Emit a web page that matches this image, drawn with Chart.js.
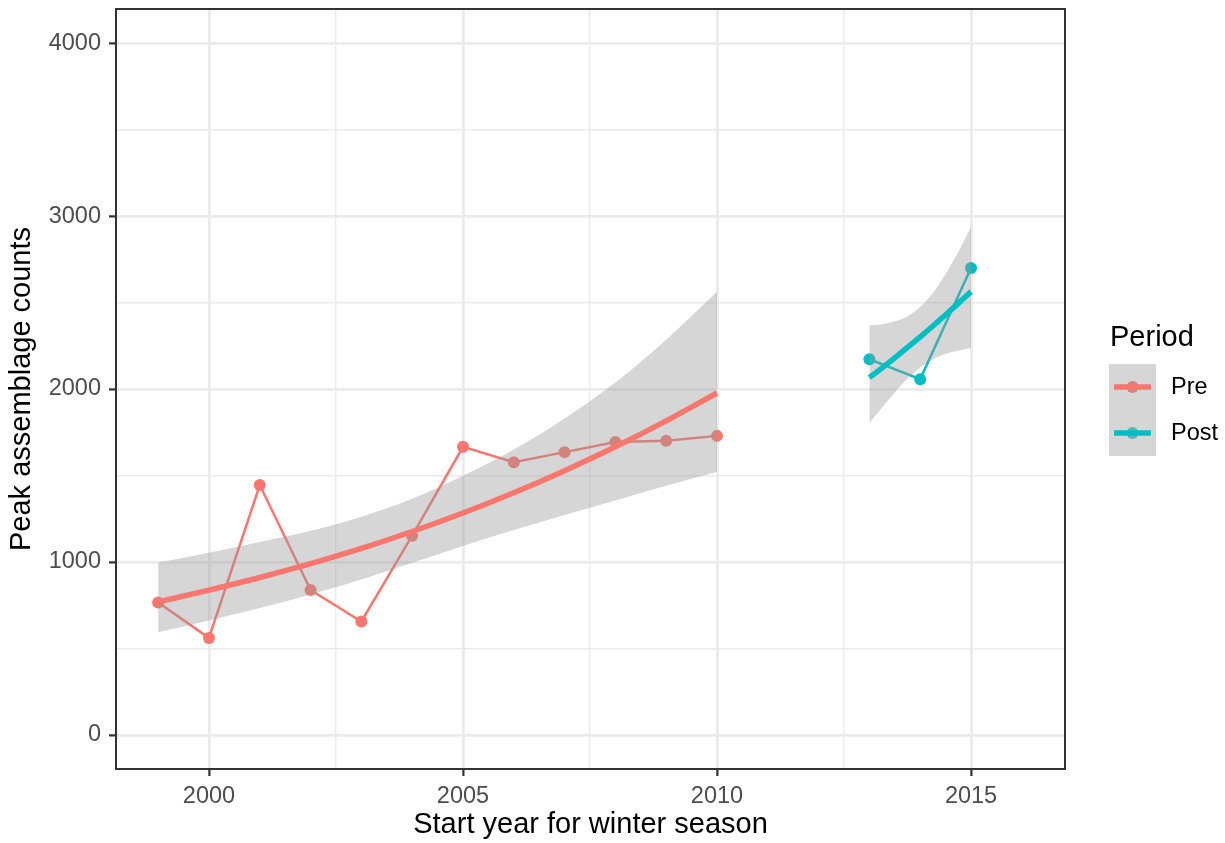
<!DOCTYPE html>
<html>
<head>
<meta charset="utf-8">
<script src="https://cdn.jsdelivr.net/npm/chart.js@4"></script>
<style>
  html, body { margin: 0; padding: 0; background: #fff; }
  #wrap { width: 1225px; height: 843px; position: relative; }
</style>
</head>
<body>
<div id="wrap"><canvas id="chart"></canvas></div>
<script>
// observed counts
const preYears = [1999, 2000, 2001, 2002, 2003, 2004, 2005, 2006, 2007, 2008, 2009, 2010];
const preCounts = [766, 561, 1445, 838, 656, 1152, 1666, 1577, 1635, 1694, 1701, 1729];
const postYears = [2013, 2014, 2015];
const postCounts = [2172, 2057, 2700];

// smooth fits + confidence band
const preFit = [769, 837, 910, 990, 1078, 1176, 1283, 1400, 1528, 1666, 1816, 1977];
const preUpper = [997, 1053, 1115, 1180, 1262, 1366, 1498, 1650, 1830, 2038, 2285, 2562];
const preLower = [593, 662, 734, 812, 898, 995, 1093, 1185, 1272, 1356, 1440, 1522];
const postFitYears = [2013, 2013.25, 2013.5, 2013.75, 2014, 2014.25, 2014.5, 2014.75, 2015];
const postFit = [2066, 2122, 2180, 2240, 2301, 2364, 2429, 2495, 2563];
const postUpper = [2368, 2375, 2391, 2421, 2474, 2555, 2665, 2792, 2937];
const postLower = [1803, 1893, 1980, 2060, 2125, 2172, 2202, 2222, 2237];

// axes
const xGridValues = [2000, 2002.5, 2005, 2007.5, 2010, 2012.5, 2015];
const yGridValues = [0, 500, 1000, 1500, 2000, 2500, 3000, 3500, 4000];
const periodLabels = ['Pre', 'Post'];

const PRE = '#F8766D';
const POST = '#00BFC4';
const BAND = 'rgba(153, 153, 153, 0.4)';
const FONT = '"Liberation Sans", Arial, Helvetica, sans-serif';

const pts = (xs, ys) => xs.map((x, i) => ({ x: x, y: ys[i] }));

function dataLine(label, xs, ys, color) {
    return {
        label: label,
        data: pts(xs, ys),
        borderColor: color,
        backgroundColor: color,
        borderWidth: 2.5,
        pointRadius: 6,
        pointBorderWidth: 0,
        pointBackgroundColor: color,
        fill: false,
        tension: 0,
        order: 3
    };
}

function band(xs, ys, isUpper) {
    return {
        data: pts(xs, ys),
        borderWidth: 0,
        borderColor: 'rgba(0,0,0,0)',
        backgroundColor: BAND,
        pointRadius: 0,
        fill: isUpper ? '+1' : false,
        cubicInterpolationMode: 'monotone',
        order: 2
    };
}

function fitLine(xs, ys, color) {
    return {
        data: pts(xs, ys),
        borderColor: color,
        borderWidth: 5.5,
        pointRadius: 0,
        fill: false,
        cubicInterpolationMode: 'monotone',
        borderCapStyle: 'butt',
        order: 1
    };
}

// panel border drawn on top, like ggplot's panel.border
const panelBorder = {
    id: 'panelBorder',
    afterDraw(chart) {
        const { ctx, chartArea: a } = chart;
        ctx.save();
        ctx.strokeStyle = '#333333';
        ctx.lineWidth = 2;
        ctx.strokeRect(a.left, a.top, a.right - a.left, a.bottom - a.top);
        ctx.restore();
    }
};

// ggplot-style legend on the right
const periodLegend = {
    id: 'periodLegend',
    afterDraw(chart) {
        const ctx = chart.ctx;
        const colors = [PRE, POST];
        const muted = ['#D2847F', '#5CB4B6'];
        ctx.save();
        ctx.fillStyle = '#000';
        ctx.font = '29px ' + FONT;
        ctx.textBaseline = 'alphabetic';
        ctx.textAlign = 'left';
        ctx.fillText('Period', 1110, 346);
        periodLabels.forEach((lab, i) => {
            const top = 364 + i * 46;
            const cy = top + 23;
            ctx.fillStyle = '#D6D6D6';
            ctx.fillRect(1109, top, 47, 46);
            ctx.beginPath();
            ctx.arc(1132.5, cy, 6, 0, Math.PI * 2);
            ctx.fillStyle = muted[i];
            ctx.fill();
            ctx.strokeStyle = colors[i];
            ctx.lineWidth = 5.5;
            ctx.beginPath();
            ctx.moveTo(1114, cy);
            ctx.lineTo(1151, cy);
            ctx.stroke();
            ctx.fillStyle = '#000';
            ctx.font = '23.5px ' + FONT;
            ctx.textBaseline = 'middle';
            ctx.fillText(lab, 1171, cy + 1);
        });
        ctx.restore();
    }
};

const isMajorX = v => v % 5 === 0;
const isMajorY = v => v % 1000 === 0;

new Chart(document.getElementById('chart'), {
    type: 'line',
    data: {
        datasets: [
            dataLine('Pre', preYears, preCounts, PRE),
            dataLine('Post', postYears, postCounts, POST),
            band(preYears, preUpper, true),
            band(preYears, preLower, false),
            band(postFitYears, postUpper, true),
            band(postFitYears, postLower, false),
            fitLine(preYears, preFit, PRE),
            fitLine(postFitYears, postFit, POST)
        ]
    },
    options: {
        responsive: true,
        maintainAspectRatio: false,
        animation: false,
        layout: { padding: { left: 0, top: 9, right: 160, bottom: 0 } },
        plugins: {
            legend: { display: false },
            tooltip: { enabled: false }
        },
        scales: {
            x: {
                type: 'linear',
                min: 1998.17,
                max: 2016.85,
                afterBuildTicks: axis => { axis.ticks = xGridValues.map(v => ({ value: v })); },
                afterFit: axis => {
                    axis.height = 74;
                    axis.paddingLeft = 0;
                    axis.paddingRight = 0;
                },
                border: { display: false },
                grid: {
                    color: '#EBEBEB',
                    lineWidth: c => (c.tick && isMajorX(c.tick.value) ? 2.8 : 1.4),
                    tickLength: 7,
                    tickWidth: 2.2,
                    tickColor: c => (c.tick && isMajorX(c.tick.value) ? '#333333' : 'rgba(0,0,0,0)')
                },
                ticks: {
                    autoSkip: false,
                    maxRotation: 0,
                    padding: 6,
                    color: '#4D4D4D',
                    font: { family: FONT, size: 23.5 },
                    callback: v => (isMajorX(v) ? String(v) : '')
                },
                title: {
                    display: true,
                    text: 'Start year for winter season',
                    color: '#000',
                    font: { family: FONT, size: 29 },
                    padding: { top: 0, bottom: 1 }
                }
            },
            y: {
                type: 'linear',
                min: -197,
                max: 4197,
                afterBuildTicks: axis => { axis.ticks = yGridValues.map(v => ({ value: v })); },
                afterFit: axis => {
                    axis.width = 116;
                    axis.paddingTop = 0;
                    axis.paddingBottom = 0;
                },
                border: { display: false },
                grid: {
                    color: '#EBEBEB',
                    lineWidth: c => (c.tick && isMajorY(c.tick.value) ? 2.8 : 1.4),
                    tickLength: 7,
                    tickWidth: 2.2,
                    tickColor: c => (c.tick && isMajorY(c.tick.value) ? '#333333' : 'rgba(0,0,0,0)')
                },
                ticks: {
                    autoSkip: false,
                    padding: 8,
                    color: '#4D4D4D',
                    font: { family: FONT, size: 23.5 },
                    callback: v => (isMajorY(v) ? String(v) : '')
                },
                title: {
                    display: true,
                    text: 'Peak assemblage counts',
                    color: '#000',
                    font: { family: FONT, size: 29 },
                    padding: { top: 5, bottom: 0 }
                }
            }
        }
    },
    plugins: [panelBorder, periodLegend]
});
</script>
</body>
</html>
